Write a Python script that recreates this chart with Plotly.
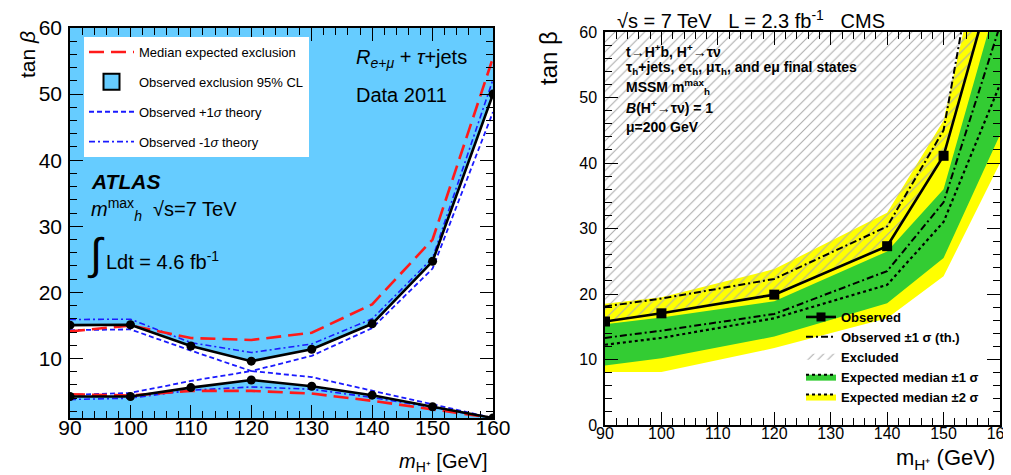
import plotly.graph_objects as go

# ---------------- Left panel (ATLAS) data ----------------
atlas_mass = [90, 100, 110, 120, 130, 140, 150, 160]
atlas_obs_upper = [15.05, 15.1, 11.9, 9.6, 11.4, 15.25, 24.7, 50.0]
atlas_obs_lower = [4.25, 4.25, 5.6, 6.75, 5.8, 4.45, 2.7, 1.0]
atlas_exp_upper = [14.1, 15.0, 13.1, 12.8, 13.9, 18.2, 28.0, 55.5]
atlas_exp_lower = [4.6, 4.4, 5.1, 5.1, 4.7, 3.6, 2.3, 1.0]
atlas_p1_upper = [14.3, 14.4, 11.2, 8.1, 10.4, 14.6, 23.6, 47.3]
atlas_p1_lower = [4.5, 4.8, 6.6, 8.1, 7.2, 5.1, 3.1, 1.0]
atlas_m1_upper = [15.9, 15.95, 12.4, 10.9, 12.2, 16.0, 25.2, 52.2]
atlas_m1_lower = [3.8, 4.0, 5.2, 5.7, 5.35, 4.1, 2.6, 1.0]

# ---------------- Right panel (CMS) data ----------------
cms_mass = [90, 100, 120, 140, 150, 160]
cms_observed = [15.8, 17.05, 19.9, 27.3, 41.1, 71.6]
cms_obs_th_up = [18.1, 19.3, 22.3, 30.3, 45.0, 93.0]
cms_obs_th_down = [13.3, 14.4, 16.95, 23.5, 34.0, 61.0]
cms_exp_median = [12.25, 13.3, 16.3, 21.4, 31.0, 52.0]
cms_exp_1s_up = [15.4, 16.4, 18.9, 26.5, 36.0, 66.4]
cms_exp_1s_down = [9.1, 10.2, 13.5, 18.6, 25.5, 44.3]
cms_exp_2s_up = [18.5, 19.5, 23.8, 32.4, 46.5, 85.0]
cms_exp_2s_down = [8.1, 8.1, 11.75, 16.3, 22.7, 40.0]

X_RANGE = [90, 160]
L_Y_RANGE = [1, 60]
R_Y_RANGE = [0, 60]

BLUE = "#66ccff"
GREEN = "#33cc33"
YELLOW = "#ffff00"
FONT = "Liberation Sans, Arial, Helvetica, sans-serif"

W, H = 1011, 475
def px(x):
    return x / W
def py(y):
    return 1 - y / H

fig = go.Figure()

def ln(x, y, color, dash, width, ax, ay, marker=None, mode="lines"):
    return go.Scatter(x=x, y=y, mode=mode, line=dict(color=color, dash=dash, width=width),
                      marker=marker, showlegend=False, xaxis=ax, yaxis=ay, hoverinfo="skip")

# ================= LEFT PANEL =================
# allowed (white) region between the two observed branches
fig.add_trace(go.Scatter(
    x=atlas_mass + atlas_mass[::-1],
    y=atlas_obs_upper + atlas_obs_lower[::-1],
    fill="toself", fillcolor="white", mode="none",
    showlegend=False, hoverinfo="skip", xaxis="x", yaxis="y"))

P1_DASH = "5px,3px"
M1_DASH = "6px,3px,2px,3px"
EXP_DASH = "15px,7px"
for up, lo, color, dash, w in [
        (atlas_p1_upper, atlas_p1_lower, "#1a1aff", P1_DASH, 1.8),
        (atlas_m1_upper, atlas_m1_lower, "#1a1aff", M1_DASH, 1.6),
        (atlas_exp_upper, atlas_exp_lower, "#ff1a1a", EXP_DASH, 2.6)]:
    fig.add_trace(ln(atlas_mass, up, color, dash, w, "x", "y"))
    fig.add_trace(ln(atlas_mass, lo, color, dash, w, "x", "y"))

for br in (atlas_obs_upper, atlas_obs_lower):
    fig.add_trace(ln(atlas_mass, br, "black", "solid", 2.6, "x", "y",
                     marker=dict(symbol="circle", size=9, color="black"), mode="lines+markers"))

def leg(name, legend, group, ax, ay, **kw):
    return go.Scatter(x=[None], y=[None], name=name, legend=legend, legendgroup=group,
                      xaxis=ax, yaxis=ay, **kw)

fig.add_trace(leg("Median expected exclusion", "legend", "a1", "x", "y", mode="lines",
                  line=dict(color="#ff1a1a", dash=EXP_DASH, width=2.6)))
fig.add_trace(leg("Observed exclusion 95% CL", "legend", "a2", "x", "y", mode="markers",
                  marker=dict(symbol="square", size=16, color=BLUE, line=dict(color="black", width=2))))
fig.add_trace(leg("Observed +1<i>σ</i> theory", "legend", "a3", "x", "y", mode="lines",
                  line=dict(color="#1a1aff", dash=P1_DASH, width=1.8)))
fig.add_trace(leg("Observed -1<i>σ</i> theory", "legend", "a4", "x", "y", mode="lines",
                  line=dict(color="#1a1aff", dash=M1_DASH, width=1.6)))

# ================= RIGHT PANEL =================
fig.add_trace(go.Scatter(
    x=cms_mass + cms_mass[::-1], y=cms_exp_2s_up + cms_exp_2s_down[::-1],
    fill="toself", fillcolor=YELLOW, mode="none", showlegend=False,
    hoverinfo="skip", xaxis="x2", yaxis="y2"))
fig.add_trace(go.Scatter(
    x=cms_mass + cms_mass[::-1], y=cms_exp_1s_up + cms_exp_1s_down[::-1],
    fill="toself", fillcolor=GREEN, mode="none", showlegend=False,
    hoverinfo="skip", xaxis="x2", yaxis="y2"))
HATCH = dict(shape="/", fgcolor="#ababab", size=7, solidity=0.15)
# excluded (hatched) region above the observed curve
fig.add_trace(go.Scatter(
    x=cms_mass + [X_RANGE[0]], y=cms_observed + [R_Y_RANGE[1]],
    fill="toself", fillcolor="rgba(0,0,0,0)", mode="none", fillpattern=HATCH,
    showlegend=False, hoverinfo="skip", xaxis="x2", yaxis="y2"))

DOT = "3px,3px"
DDASH = "7px,3px,2px,3px"
fig.add_trace(ln(cms_mass, cms_exp_median, "black", DOT, 2.2, "x2", "y2"))
fig.add_trace(ln(cms_mass, cms_obs_th_down, "black", DDASH, 2.0, "x2", "y2"))
fig.add_trace(ln(cms_mass, cms_obs_th_up, "black", DDASH, 2.0, "x2", "y2"))
fig.add_trace(ln(cms_mass, cms_observed, "black", "solid", 2.6, "x2", "y2",
                 marker=dict(symbol="square", size=10, color="black"), mode="lines+markers"))

fig.add_trace(leg("<b>Observed</b>", "legend2", "b1", "x2", "y2", mode="lines+markers",
                  line=dict(color="black", width=2.6),
                  marker=dict(symbol="square", size=9, color="black")))
fig.add_trace(leg("<b>Observed ±1 σ (th.)</b>", "legend2", "b2", "x2", "y2", mode="lines",
                  line=dict(color="black", dash=DDASH, width=2)))
fig.add_trace(leg("<b>Excluded</b>", "legend2", "b3", "x2", "y2", mode="none", fill="toself",
                  fillcolor="rgba(0,0,0,0)", fillpattern=HATCH))
fig.add_trace(leg("<b>Expected median ±1 σ</b>", "legend2", "b4", "x2", "y2", mode="lines",
                  fill="toself", fillcolor=GREEN, line=dict(color="black", dash=DOT, width=2)))
fig.add_trace(leg("<b>Expected median ±2 σ</b>", "legend2", "b5", "x2", "y2", mode="lines",
                  fill="toself", fillcolor=YELLOW, line=dict(color="black", dash=DOT, width=2)))

# ================= AXES =================
def axis(domain, rng, anchor, fsize, standoff):
    return dict(domain=domain, range=rng, anchor=anchor, dtick=10, tick0=0,
                ticks="inside", ticklen=13, tickwidth=1.3, tickcolor="black",
                showline=True, linecolor="black", linewidth=1.5, mirror="ticks",
                showgrid=False, zeroline=False, automargin=False,
                ticklabeloverflow="allow",
                tickfont=dict(family=FONT, size=fsize, color="black"),
                ticklabelstandoff=standoff,
                minor=dict(ticks="inside", ticklen=7, dtick=2, tick0=0, tickwidth=1,
                           tickcolor="black", showgrid=False))

L_XDOM = [px(62), px(485)]
L_YDOM = [py(410), py(20)]
R_XDOM = [px(597), px(992)]
R_YDOM = [py(417), py(24)]

fig.update_layout(
    template="none",
    width=W, height=H, margin=dict(l=0, r=0, t=0, b=0, pad=0, autoexpand=False),
    paper_bgcolor="white", plot_bgcolor="white",
    xaxis=axis(L_XDOM, X_RANGE, "y", 21, -10),
    yaxis=axis(L_YDOM, L_Y_RANGE, "x", 21, 2),
    xaxis2=axis(R_XDOM, X_RANGE, "y2", 16, -7),
    yaxis2=axis(R_YDOM, R_Y_RANGE, "x2", 16, 3),
    legend=dict(x=px(76), y=py(29), xanchor="left", yanchor="top", bgcolor="white",
                borderwidth=0, font=dict(family=FONT, size=13, color="black"),
                itemwidth=45, tracegroupgap=10, traceorder="grouped",
                itemclick=False, itemdoubleclick=False),
    legend2=dict(x=px(793), y=py(294), xanchor="left", yanchor="top",
                 bgcolor="rgba(0,0,0,0)", borderwidth=0,
                 font=dict(family=FONT, size=13, color="black"),
                 itemwidth=30, tracegroupgap=0, traceorder="grouped",
                 itemclick=False, itemdoubleclick=False),
    shapes=[dict(type="rect", xref="x domain", yref="y domain", x0=0, x1=1, y0=0, y1=1,
                 fillcolor=BLUE, line=dict(width=0), layer="below")],
)

ann = []
def A(text, x, y, size, xanchor="left", yanchor="middle", angle=0):
    ann.append(dict(text=text, x=px(x), y=py(y), xref="paper", yref="paper",
                    xanchor=xanchor, yanchor=yanchor, showarrow=False, textangle=angle,
                    font=dict(family=FONT, size=size, color="black")))

# left panel texts
A("<i>R</i><sub><i>e+μ</i></sub> + <i>τ</i>+jets", 346, 50, 20)
A("Data 2011", 346, 87, 20)
A("<b><i>ATLAS</i></b>", 81, 173, 21)
A("<i>m</i><sup>max</sup><sub><i>h</i></sub>  √s=7 TeV", 81, 202, 20)
A("∫", 77, 246, 44)
A("Ldt = 4.6 fb<sup>-1</sup>", 96, 252, 20)
A("tan <i>β</i>", 19, 47, 21, xanchor="center", angle=-90)
A("<i>m</i><sub>H⁺</sub> [GeV]", 482, 469, 20, xanchor="right", yanchor="bottom")

# right panel texts
A("√s = 7 TeV   L = 2.3 fb<sup>-1</sup>   CMS", 607, 11, 20)
A("<b>t→H<sup>+</sup>b, H<sup>+</sup>→τν</b>", 616, 43, 14)
A("<b>τ<sub>h</sub>+jets, eτ<sub>h</sub>, μτ<sub>h</sub>, and eμ final states</b>", 616, 60, 14)
A("<b>MSSM m<sup>max</sup><sub>h</sub></b>", 616, 79, 14)
A("<b><i>B</i>(H<sup>+</sup>→τν) = 1</b>", 616, 99, 14)
A("<b>μ=200 GeV</b>", 616, 119, 14)
A("tan β", 540, 50, 24, xanchor="center", angle=-90)
A("m<sub>H⁺</sub> (GeV)", 989, 467, 22, xanchor="right", yanchor="bottom")

fig.update_layout(annotations=ann)

fig.write_html("out.html")
